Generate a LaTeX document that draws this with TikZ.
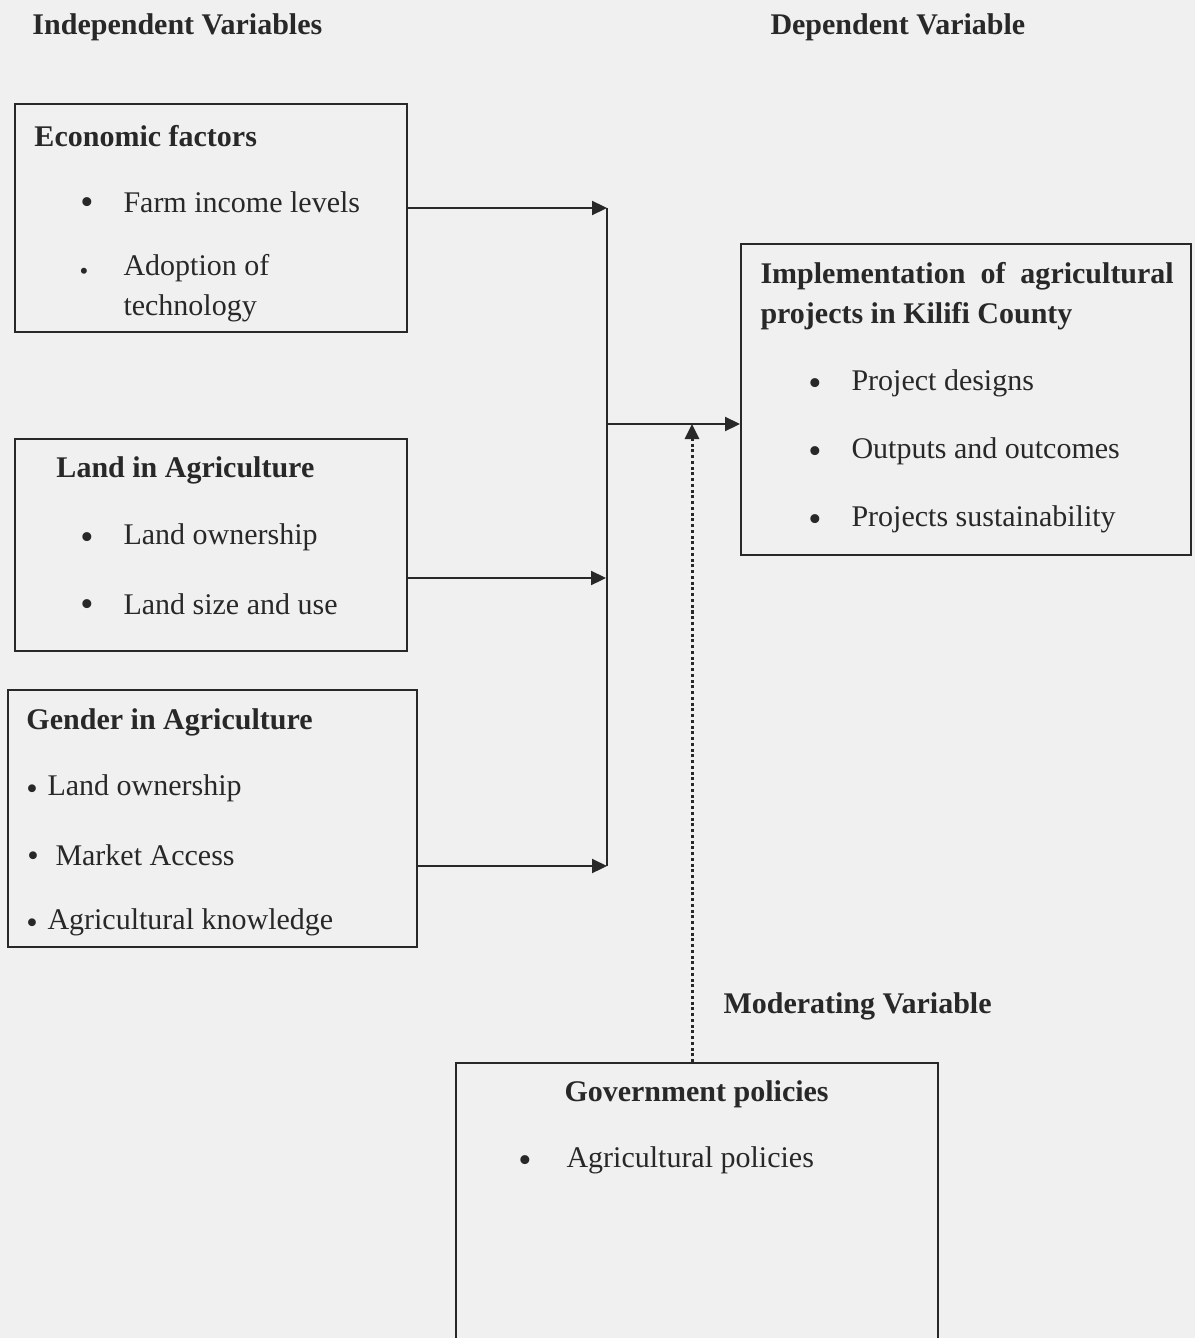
\documentclass[tikz,border=0pt]{standalone}
\usepackage{fontspec}
\setmainfont{Liberation Serif}
\usetikzlibrary{arrows.meta}
\definecolor{bg}{RGB}{240,240,240}
\definecolor{ink}{RGB}{40,40,40}
\tikzset{
  x=0.4pt, y=-0.4pt,
  every node/.style={font=\fontsize{12}{14}\selectfont, text=ink, inner sep=0pt},
  box/.style={draw=ink, line width=0.9pt, anchor=north west, rectangle},
  hd/.style={anchor=west, yshift=-1.2pt, font=\fontsize{12}{14}\selectfont\bfseries},
  txt/.style={anchor=west, yshift=-1.2pt},
  blt/.style={anchor=center, yshift=-1.2pt, font=\fontsize{15}{15}\selectfont},
  arr/.style={draw=ink, line width=0.9pt, -{Triangle[length=6pt,width=5.6pt]}},
  ln/.style={draw=ink, line width=0.9pt},
  dotarr/.style={draw=ink, line width=1.2pt, dash pattern=on 1.2pt off 1.1pt, -{Triangle[length=6pt,width=5.6pt]}}
}
\begin{document}
\begin{tikzpicture}
\fill[bg] (0,0) rectangle (1195,1338);
\clip (0,0) rectangle (1195,1338);

% headings
\node[hd] (hind) at (32,24) {Independent Variables};
\node[hd] (hdep) at (770,24) {Dependent Variable};
\node[hd] (hmod) at (723,1003) {Moderating Variable};

% boxes
\node[box, minimum width=392*0.4pt, minimum height=228*0.4pt] (econ) at (14,103) {};
\node[box, minimum width=392*0.4pt, minimum height=212*0.4pt] (land) at (14,438) {};
\node[box, minimum width=409*0.4pt, minimum height=257*0.4pt] (gend) at (7,689) {};
\node[box, minimum width=450*0.4pt, minimum height=311*0.4pt] (impl) at (740,243) {};
\node[box, minimum width=482*0.4pt, minimum height=320*0.4pt] (gov) at (455,1062) {};

% economic factors
\node[hd] (e0) at (34,133) {Economic factors};
\node[blt] (eb1) at (87,203) {\textbullet};
\node[txt] (e1) at (123,199) {Farm income levels};
\node[blt, font=\fontsize{10}{10}\selectfont] (eb2) at (84,271) {\textbullet};
\node[txt] (e2) at (123,265) {Adoption of};
\node[txt] (e3) at (123,305) {technology};

% land
\node[hd] (l0) at (56,467) {Land in Agriculture};
\node[blt] (lb1) at (87,538) {\textbullet};
\node[txt] (l1) at (123,534) {Land ownership};
\node[blt] (lb2) at (87,605) {\textbullet};
\node[txt] (l2) at (123,601) {Land size and use};

% gender
\node[hd] (g0) at (26,719) {Gender in Agriculture};
\node[blt, font=\fontsize{13}{13}\selectfont] (gb1) at (32,789) {\textbullet};
\node[txt] (g1) at (47,785) {Land ownership};
\node[blt, font=\fontsize{13}{13}\selectfont] (gb2) at (33,856) {\textbullet};
\node[txt] (g2) at (55,852) {Market Access};
\node[blt, font=\fontsize{13}{13}\selectfont] (gb3) at (32,923) {\textbullet};
\node[txt] (g3) at (47,919) {Agricultural knowledge};

% implementation
\node[hd] (i0) at (760,273) {Implementation\ \ of\ \ agricultural};
\node[hd] (i1) at (760,313) {projects in Kilifi County};
\node[blt] (ib1) at (815,384) {\textbullet};
\node[txt] (i2) at (851,380) {Project designs};
\node[blt] (ib2) at (815,452) {\textbullet};
\node[txt] (i3) at (851,448) {Outputs and outcomes};
\node[blt] (ib3) at (815,520) {\textbullet};
\node[txt] (i4) at (851,516) {Projects sustainability};

% government
\node[hd] (v0) at (564,1091) {Government policies};
\node[blt] (vb1) at (525,1161) {\textbullet};
\node[txt] (v1) at (566,1157) {Agricultural policies};

% connectors
\coordinate (t1) at (607,208);
\coordinate (t2) at (606,578);
\coordinate (t3) at (607,866);
\coordinate (m) at (606,424);
\coordinate (d) at (692,424);

\draw[arr] (t1 -| econ.east) -- (t1);
\draw[arr] (t2 -| land.east) -- (t2);
\draw[arr] (t3 -| gend.east) -- (t3);
\draw[ln] (t1) -- (t3);
\draw[arr] (m) -- (m -| impl.west);
\draw[dotarr] (d |- gov.north) -- (d);
\end{tikzpicture}
\end{document}
